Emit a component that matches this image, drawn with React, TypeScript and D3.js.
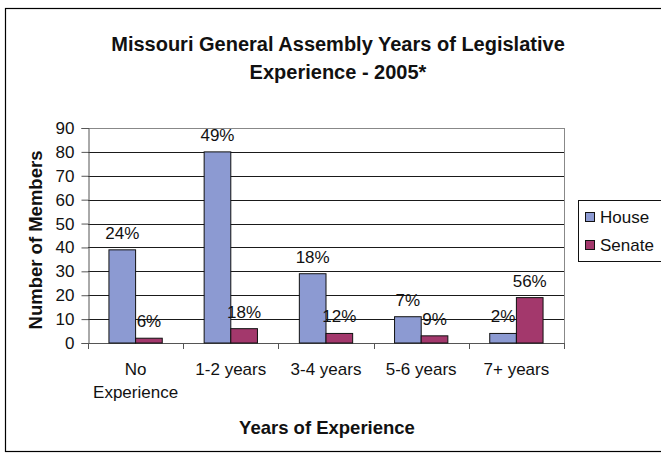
import React, { useEffect, useRef } from 'react';
import * as d3 from 'd3';

const categories = ['No Experience', '1-2 years', '3-4 years', '5-6 years', '7+ years'];
const seriesNames = ['House', 'Senate'];
const houseValues = [39, 80, 29, 11, 4];
const senateValues = [2, 6, 4, 3, 19];
const houseLabels = ['24%', '49%', '18%', '7%', '2%'];
const senateLabels = ['6%', '18%', '12%', '9%', '56%'];
const yTicks = [0, 10, 20, 30, 40, 50, 60, 70, 80, 90];

const colors = ['#8C9AD2', '#A3386C'];

const App: React.FC = () => {
  const svgRef = useRef<SVGSVGElement>(null);

  useEffect(() => {
    if (!svgRef.current) return;
    const svg = d3.select(svgRef.current);
    svg.selectAll('*').remove();

    const width = 661;
    const height = 455;
    const font = 'Liberation Sans, Arial, sans-serif';

    svg.append('rect').attr('width', width).attr('height', height).attr('fill', '#fff');
    // outer chart border
    svg.append('rect')
      .attr('x', 5.5).attr('y', 8.5)
      .attr('width', 700).attr('height', 443)
      .attr('fill', 'none').attr('stroke', '#000').attr('stroke-width', 1.2);

    const left = 88, right = 564, top = 128, bottom = 343;

    const x = d3.scaleBand<string>().domain(categories).range([left, right]).paddingInner(0.44).paddingOuter(0.22);
    const xSub = d3.scaleBand<string>().domain(seriesNames).range([0, x.bandwidth()]);
    const y = d3.scaleLinear().domain([0, 90]).range([bottom, top]);

    // gridlines
    svg.append('g').selectAll('line').data(yTicks.filter(t => t > 0)).enter().append('line')
      .attr('x1', left).attr('x2', right)
      .attr('y1', d => Math.round(y(d)) + 0.5).attr('y2', d => Math.round(y(d)) + 0.5)
      .attr('stroke', d => d === 90 ? '#888' : '#1a1a1a').attr('stroke-width', 1);
    svg.append('line').attr('x1', right + 0.5).attr('x2', right + 0.5).attr('y1', top).attr('y2', bottom)
      .attr('stroke', '#888');

    // y axis
    const yAxis = svg.append('g').attr('transform', `translate(${left + 0.5},0)`)
      .call(d3.axisLeft(y).tickValues(yTicks).tickSize(7).tickPadding(7));
    yAxis.select('.domain').attr('stroke', '#555');
    yAxis.selectAll('line').attr('stroke', '#555');
    yAxis.selectAll('text').style('font-family', font).style('font-size', '17px').attr('fill', '#111');

    // x axis
    svg.append('line').attr('x1', left).attr('x2', right + 1).attr('y1', bottom + 0.5).attr('y2', bottom + 0.5)
      .attr('stroke', '#555');
    const step = x.step();
    svg.append('g').selectAll('line').data(d3.range(categories.length + 1)).enter().append('line')
      .attr('x1', i => Math.round(left + (right - left) * i / categories.length) + 0.5)
      .attr('x2', i => Math.round(left + (right - left) * i / categories.length) + 0.5)
      .attr('y1', bottom).attr('y2', bottom + 6).attr('stroke', '#555');

    const series = [
      { name: 'House', values: houseValues, labels: houseLabels },
      { name: 'Senate', values: senateValues, labels: senateLabels },
    ];

    series.forEach((s, si) => {
      const g = svg.append('g');
      g.selectAll('rect').data(categories).enter().append('rect')
        .attr('x', c => (x(c) as number) + (xSub(s.name) as number))
        .attr('y', (c, i) => y(s.values[i]))
        .attr('width', xSub.bandwidth())
        .attr('height', (c, i) => bottom - y(s.values[i]))
        .attr('fill', colors[si])
        .attr('stroke', '#111').attr('stroke-width', 1);
      g.selectAll('text').data(categories).enter().append('text')
        .attr('x', c => (x(c) as number) + (xSub(s.name) as number) + xSub.bandwidth() / 2)
        .attr('y', (c, i) => y(s.values[i]) - 11)
        .attr('text-anchor', 'middle')
        .style('font-family', font).style('font-size', '17px').attr('fill', '#111')
        .text((c, i) => s.labels[i]);
    });

    // category labels
    const catG = svg.append('g');
    categories.forEach((c, i) => {
      const cx = left + step * (i + 0.5);
      const lines = c === 'No Experience' ? ['No', 'Experience'] : [c];
      lines.forEach((ln, li) => {
        catG.append('text')
          .attr('x', cx).attr('y', 375 + li * 23)
          .attr('text-anchor', 'middle')
          .style('font-family', font).style('font-size', '17px').attr('fill', '#111')
          .text(ln);
      });
    });

    // axis titles
    svg.append('text')
      .attr('x', 327).attr('y', 434)
      .attr('text-anchor', 'middle')
      .style('font-family', font).style('font-size', '18.5px').style('font-weight', 'bold').attr('fill', '#111')
      .text('Years of Experience');
    svg.append('text')
      .attr('transform', `translate(42,240) rotate(-90)`)
      .attr('text-anchor', 'middle')
      .style('font-family', font).style('font-size', '18.5px').style('font-weight', 'bold').attr('fill', '#111')
      .text('Number of Members');

    // title
    const title = svg.append('text').attr('text-anchor', 'middle')
      .style('font-family', font).style('font-size', '20px').style('font-weight', 'bold').attr('fill', '#111');
    title.append('tspan').attr('x', 338).attr('y', 51).text('Missouri General Assembly Years of Legislative');
    title.append('tspan').attr('x', 338).attr('y', 79).text('Experience - 2005*');

    // legend
    const lg = svg.append('g');
    lg.append('rect').attr('x', 578.5).attr('y', 200.5).attr('width', 100).attr('height', 61)
      .attr('fill', '#fff').attr('stroke', '#111');
    seriesNames.forEach((n, i) => {
      lg.append('rect').attr('x', 585.5).attr('y', 212.5 + i * 28).attr('width', 9).attr('height', 9)
        .attr('fill', colors[i]).attr('stroke', '#111');
      lg.append('text').attr('x', 600).attr('y', 223 + i * 28)
        .style('font-family', font).style('font-size', '17px').attr('fill', '#111')
        .text(n);
    });
  }, []);

  return (
    <svg ref={svgRef} width={661} height={455} style={{ position: 'absolute', left: 0, top: 0 }} />
  );
};

export default App;
